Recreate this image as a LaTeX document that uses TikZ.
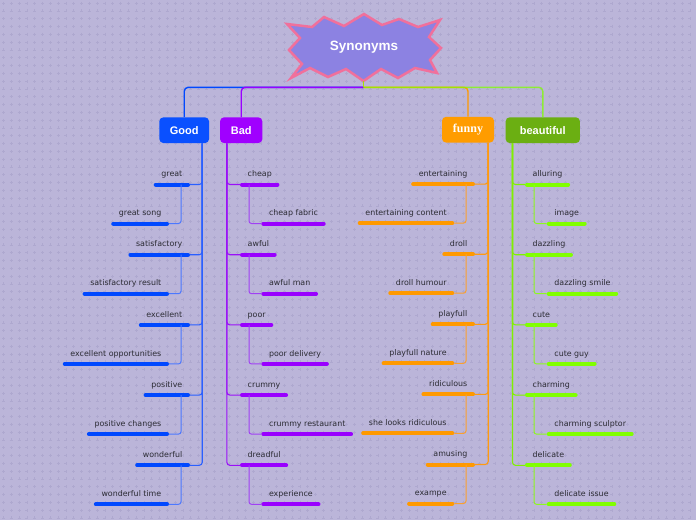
\documentclass[tikz,border=0pt]{standalone}
\usepackage{fontspec}
\setmainfont{DejaVu Sans}
\newfontfamily\hdrfont{Liberation Sans}
\newfontfamily\funnyfont{Liberation Serif}
\newcommand\lblf{\fontsize{7.9}{9}\selectfont}
\definecolor{bgC}{HTML}{BBB5D9}
\definecolor{plusC}{HTML}{AEA8CF}
\definecolor{titleF}{HTML}{8C82E2}
\definecolor{titleB}{HTML}{F0709C}
\definecolor{txtC}{HTML}{2C2C34}
\definecolor{goodH}{HTML}{0A50FF}
\definecolor{goodB}{HTML}{0048FF}
\definecolor{goodL}{HTML}{2A5FFF}
\definecolor{goodS}{HTML}{4C78FF}
\definecolor{badH}{HTML}{A000FF}
\definecolor{badB}{HTML}{9900FF}
\definecolor{badL}{HTML}{9A10F8}
\definecolor{badS}{HTML}{A040F4}
\definecolor{funH}{HTML}{FF9C00}
\definecolor{funB}{HTML}{FF9900}
\definecolor{funL}{HTML}{FF9A10}
\definecolor{funS}{HTML}{FAA030}
\definecolor{beaH}{HTML}{6BAF12}
\definecolor{beaB}{HTML}{80FF00}
\definecolor{beaL}{HTML}{80F000}
\definecolor{beaS}{HTML}{8EF820}
\tikzset{
  lbl/.style={font=\lblf, text=txtC, inner xsep=7.5pt, inner ysep=0pt, text height=6pt, text depth=7.6pt},
  bar/.style={line width=4pt, line cap=round},
  branch/.style={line width=1.1pt, rounded corners=3pt},
  sub/.style={line width=1pt, rounded corners=2.5pt},
  hdr/.style={rounded corners=4pt, minimum height=25.7pt, inner sep=0pt, text=white, font=\hdrfont\bfseries\fontsize{11}{13}\selectfont},
  top/.style={line width=1.4pt, rounded corners=4pt},
}
\newcommand\itmL[5]{%
  \node[lbl, anchor=south east] (#1) at (#2,#3) {#5};
  \draw[bar, #4] ([xshift=2pt]#1.south west) -- ([xshift=-2pt]#1.south east);}
\newcommand\itmR[5]{%
  \node[lbl, anchor=south west] (#1) at (#2,#3) {#5};
  \draw[bar, #4] ([xshift=2pt]#1.south west) -- ([xshift=-2pt]#1.south east);}
\begin{document}
\begin{tikzpicture}[x=1pt,y=-1pt]
\useasboundingbox (0,0) rectangle (696,520);
\fill[bgC] (0,0) rectangle (696,520);
\foreach \j in {0,...,66} {
  \draw[plusC, line width=0.5pt] \foreach \i in {0,...,89} { ({\i*7.8+2},{\j*7.8+3}) -- ++(3,0) ({\i*7.8+3.5},{\j*7.8+1.5}) -- ++(0,3) };
}
% title
\filldraw[fill=titleF, draw=titleB, line width=2.5pt, line join=miter]
 (287,24) -- (312,27) -- (324,17) -- (344,26) -- (364,14) -- (382,25) -- (399,19) -- (418,27) -- (440,20)
 -- (429,37) -- (441,48) -- (430,60) -- (437,73)
 -- (415,68) -- (398,78) -- (381,69) -- (363.5,81) -- (346,69) -- (328,77) -- (310,68) -- (291,78)
 -- (302,64) -- (289,50) -- (300,38) -- cycle;
\node[text=white, font=\hdrfont\bfseries\fontsize{13.5}{15}\selectfont] (title) at (364,47.5) {Synonyms};
\coordinate (root) at (363.5,81);
\coordinate (hub) at (363.5,87.3);
% headers
\node[hdr, fill=goodH, minimum width=49.7pt] (good) at (184.2,130.2) {Good};
\node[hdr, fill=badH, minimum width=42.3pt] (bad) at (241.2,130.2) {Bad};
\node[hdr, fill=funH, minimum width=52pt, font=\funnyfont\bfseries\fontsize{12}{14}\selectfont] (funny) at (468,129.7) {funny};
\node[hdr, fill=beaH, minimum width=74.3pt] (beau) at (542.8,130.2) {beautiful};
% top connectors
\draw[top, goodB] (hub) -| (good.north);
\draw[top, badB] (hub) -| (bad.north);
\draw[top, funB] (hub) -| (funny.north);
\draw[top, beaB, opacity=0.75] (hub) -| (beau.north);
\draw[line width=1.4pt, beaB!70!funB] (root) -- (hub);
% Good
\foreach \p/\c [count=\n from 0] in {great/great song, satisfactory/satisfactory result, excellent/excellent opportunities, positive/positive changes, wonderful/wonderful time} {
  \pgfmathsetmacro\yp{184.5+70.2*\n}
  \pgfmathsetmacro\yc{\yp+39}
  \draw[branch, goodL] ([xshift=-7pt]good.south east) |- (190,\yp);
  \itmL{g\n}{190}{\yp}{goodB}{\p}
  \itmL{gc\n}{169}{\yc}{goodB}{\c}
  \draw[sub, goodS] ([xshift=-9pt]g\n.south east) |- (gc\n.south east);
}
% Bad
\foreach \p/\c [count=\n from 0] in {cheap/cheap fabric, awful/awful man, poor/poor delivery, crummy/crummy restaurant, dreadful/experience} {
  \pgfmathsetmacro\yp{184.5+70.2*\n}
  \pgfmathsetmacro\yc{\yp+39}
  \draw[branch, badL] ([xshift=7pt]bad.south west) |- (240,\yp);
  \itmR{b\n}{240}{\yp}{badB}{\p}
  \itmR{bc\n}{261.3}{\yc}{badB}{\c}
  \draw[sub, badS] ([xshift=9pt]b\n.south west) |- (bc\n.south west);
}
% funny
\foreach \p/\c [count=\n from 0] in {entertaining/entertaining content, droll/droll humour, playfull/playfull nature, ridiculous/she looks ridiculous, amusing/exampe} {
  \pgfmathsetmacro\yp{184.1+70.1*\n}
  \pgfmathsetmacro\yc{\yp+39}
  \draw[branch, funL] ([xshift=-6pt]funny.south east) |- (475,\yp);
  \itmL{f\n}{475}{\yp}{funB}{\p}
  \itmL{fc\n}{454.3}{\yc}{funB}{\c}
  \draw[sub, funS] ([xshift=-9pt]f\n.south east) |- (fc\n.south east);
}
% beautiful
\foreach \p/\c [count=\n from 0] in {alluring/image, dazzling/dazzling smile, cute/cute guy, charming/charming sculptor, delicate/delicate issue} {
  \pgfmathsetmacro\yp{184.5+70.2*\n}
  \pgfmathsetmacro\yc{\yp+39}
  \draw[branch, beaL] ([xshift=7pt]beau.south west) |- (525,\yp);
  \itmR{e\n}{525}{\yp}{beaB}{\p}
  \itmR{ec\n}{546.7}{\yc}{beaB}{\c}
  \draw[sub, beaS] ([xshift=9pt]e\n.south west) |- (ec\n.south west);
}
\end{tikzpicture}
\end{document}
